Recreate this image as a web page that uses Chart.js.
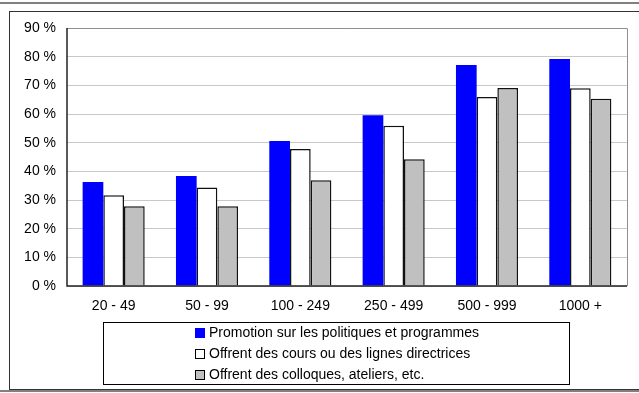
<!DOCTYPE html>
<html>
<head>
<meta charset="utf-8">
<script src="https://cdn.jsdelivr.net/npm/chart.js@4.4.0/dist/chart.umd.min.js"></script>
<style>
  body { margin: 0; background: #fff; font-family: "Liberation Sans", Arial, sans-serif; }
  #wrap { position: relative; width: 639px; height: 393px; overflow: hidden; }
  #legende {
    position: absolute; left: 103px; top: 322px; width: 467px; height: 63px;
    border: 1px solid #000; box-sizing: border-box; font-size: 14px; color: #000;
  }
  .item { position: absolute; left: 91px; height: 16px; line-height: 16px; white-space: nowrap; }
  .box { display: inline-block; width: 10px; height: 10px; border: 1px solid #000; margin-right: 4px; vertical-align: -1px; box-sizing: border-box; }
</style>
</head>
<body>
<div id="wrap">
  <canvas id="grafik" width="639" height="393"></canvas>
  <div id="legende"></div>
</div>
<script>
  // Taille des entreprises
  const categories = ["20 - 49", "50 - 99", "100 - 249", "250 - 499", "500 - 999", "1000 +"];
  const promotion = [36.3, 38.4, 50.6, 59.6, 77.1, 79.2];
  const cours = [31.7, 34.4, 47.8, 55.9, 65.9, 69.0];
  const colloques = [27.8, 27.8, 36.9, 44.2, 69.1, 65.3];
  const yTicks = [0, 10, 20, 30, 40, 50, 60, 70, 80, 90];

  const series = [
    { label: "Promotion sur les politiques et programmes", data: promotion, color: "#0000ff", border: 0 },
    { label: "Offrent des cours ou des lignes directrices", data: cours, color: "#ffffff", border: 1.5 },
    { label: "Offrent des colloques, ateliers, etc.", data: colloques, color: "#c0c0c0", border: 1.5 }
  ];

  // cadre exterieur et bordure du graphique
  const cadre = {
    id: "cadre",
    beforeDraw(chart) {
      const c = chart.ctx;
      c.save();
      c.fillStyle = "#fff";
      c.fillRect(0, 0, chart.width, chart.height);
      c.fillStyle = "#808080";
      c.fillRect(0, 2, chart.width, 2);
      c.fillRect(0, 390, chart.width, 2);
      c.strokeStyle = "#333";
      c.lineWidth = 1;
      c.strokeRect(9.5, 11.5, 700, 378);
      c.restore();
    },
    afterDatasetsDraw(chart) {
      const a = chart.chartArea;
      const c = chart.ctx;
      c.save();
      c.strokeStyle = "#909090";
      c.lineWidth = 1;
      c.beginPath();
      c.moveTo(a.left, a.top + 0.5);
      c.lineTo(a.right + 0.5, a.top + 0.5);
      c.lineTo(a.right + 0.5, a.bottom);
      c.stroke();
      c.strokeStyle = "#222";
      c.lineWidth = 1.5;
      c.beginPath();
      c.moveTo(a.left, a.top);
      c.lineTo(a.left, a.bottom);
      c.lineTo(a.right, a.bottom);
      c.stroke();
      c.restore();
    }
  };

  const ctx = document.getElementById("grafik").getContext("2d");
  new Chart(ctx, {
    type: "bar",
    data: {
      labels: categories,
      datasets: series.map(s => ({
        label: s.label,
        data: s.data,
        backgroundColor: s.color,
        borderColor: "#111",
        borderWidth: s.border,
        categoryPercentage: 0.665,
        barPercentage: 1.0
      }))
    },
    options: {
      responsive: false,
      animation: false,
      layout: { padding: { left: 0, top: 28, right: 12, bottom: 0 } },
      scales: {
        x: {
          grid: { display: false, drawTicks: false },
          border: { display: false },
          ticks: { color: "#000", padding: 12, font: { family: "Liberation Sans", size: 14 } },
          afterFit: s => { s.height = 107; }
        },
        y: {
          min: 0,
          max: 90,
          afterBuildTicks: s => { s.ticks = yTicks.map(v => ({ value: v })); },
          grid: { color: "#c8c8c8", lineWidth: 1, drawTicks: false },
          border: { display: false },
          ticks: {
            color: "#000",
            padding: 11,
            font: { family: "Liberation Sans", size: 14 },
            callback: v => v + " %"
          },
          afterFit: s => { s.width = 67; }
        }
      },
      plugins: {
        legend: { display: false },
        tooltip: { enabled: false }
      }
    },
    plugins: [cadre]
  });

  // legende
  const leg = document.getElementById("legende");
  series.forEach((s, i) => {
    const d = document.createElement("div");
    d.className = "item";
    d.style.top = (1 + i * 21) + "px";
    const b = document.createElement("span");
    b.className = "box";
    b.style.background = s.color;
    if (s.border === 0) b.style.borderColor = s.color;
    d.appendChild(b);
    d.appendChild(document.createTextNode(s.label));
    leg.appendChild(d);
  });
</script>
</body>
</html>
